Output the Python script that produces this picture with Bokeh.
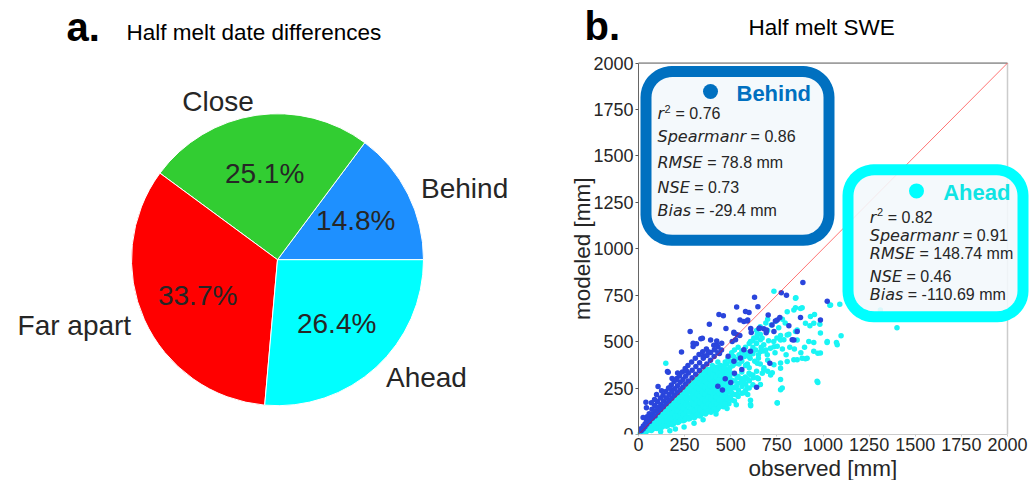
import numpy as np
from bokeh.plotting import figure
from bokeh.layouts import row
from bokeh.models import Range1d, FixedTicker, Title
from bokeh.core.properties import value
from bokeh.embed import file_html
from bokeh.resources import INLINE

# ---------------- data ----------------
pie_labels = ["Behind", "Close", "Far apart", "Ahead"]
pie_pct = [14.8, 25.1, 33.7, 26.4]
pie_colors = ["#1e90ff", "#32cd32", "#ff0000", "#00ffff"]

axis_ticks = [0, 250, 500, 750, 1000, 1250, 1500, 1750, 2000]
AXIS_MAX = 2000

stat_names = ["r", "Spearmanr", "RMSE", "NSE", "Bias"]
behind_stats = ["0.76", "0.86", "78.8 mm", "0.73", "-29.4 mm"]
ahead_stats = ["0.82", "0.91", "148.74 mm", "0.46", "-110.69 mm"]

# (observed, modeled) in mm
behind_pts = [
    (15, 20), (14, 31), (25, 30), (26, 46), (35, 42), (36, 58), (45, 55), (44, 76), (47, 95),
    (60, 70), (61, 91), (58, 112), (75, 88), (76, 110), (73, 136), (90, 100), (91, 128), (88, 156),
    (105, 118), (106, 146), (103, 176), (120, 135), (121, 161), (118, 196), (135, 150), (136, 181),
    (133, 211), (150, 165), (151, 196), (148, 231), (165, 180), (166, 216), (163, 251), (180, 195),
    (181, 231), (178, 266), (182, 301), (195, 212), (196, 246), (193, 286), (210, 225), (211, 263),
    (208, 301), (212, 331), (225, 240), (226, 281), (223, 316), (240, 255), (241, 296), (238, 336),
    (255, 272), (256, 313), (253, 356), (270, 288), (271, 331), (268, 371), (290, 305), (291, 346),
    (288, 391), (310, 325), (311, 366), (308, 411), (330, 345), (331, 386), (328, 431), (350, 365),
    (351, 411), (348, 446), (370, 380), (371, 426), (368, 461), (390, 400), (391, 441), (410, 420),
    (411, 456), (408, 481), (430, 440), (431, 471), (450, 455), (451, 491),
    (314, 488), (423, 483), (233, 444), (378, 445), (439, 436), (486, 421), (351, 421), (161, 335),
    (260, 342), (206, 296), (168, 251), (125, 235), (87, 189), (70, 171), (43, 144), (25, 91),
    (98, 216),
    (891, 818), (774, 763), (802, 750), (629, 739), (532, 686), (647, 688), (436, 646), (460, 639),
    (599, 657), (703, 643), (752, 616), (815, 586), (1023, 718), (986, 616), (384, 593), (474, 571),
    (550, 616), (590, 611), (280, 554), (346, 518), (391, 509), (424, 504), (518, 545), (608, 571),
    (653, 571), (692, 548), (734, 554), (860, 554), (842, 509), (712, 384), (640, 255), (157, 339),
    (106, 259), (40, 173), (580, 662), (766, 630), (742, 611), (724, 590), (878, 630), (592, 617),
    (571, 608), (657, 573), (679, 569), (694, 563), (611, 549), (517, 551), (535, 537), (549, 533),
    (526, 510), (508, 501), (833, 510), (607, 448), (571, 456), (553, 412), (517, 394), (296, 492),
    (296, 474), (338, 515), (470, 300), (520, 330), (455, 240), (500, 280), (560, 350), (430, 260),
]

ahead_pts = [
    (10, 4), (11, 9), (25, 10), (24, 20), (40, 13), (41, 30), (39, 38), (55, 24), (56, 40), (54, 52),
    (70, 22), (71, 44), (69, 64), (85, 36), (86, 58), (84, 78), (100, 32), (101, 56), (99, 80), (100, 95),
    (115, 46), (116, 70), (114, 94), (115, 110), (130, 42), (131, 68), (129, 94), (130, 120),
    (145, 56), (146, 82), (144, 108), (145, 134), (160, 50), (161, 78), (159, 106), (160, 134), (161, 152),
    (175, 64), (176, 94), (174, 124), (175, 154), (176, 168), (190, 58), (191, 90), (189, 122), (190, 154),
    (191, 182), (205, 74), (206, 106), (204, 138), (205, 170), (206, 196), (220, 68), (221, 102),
    (219, 136), (220, 170), (221, 204), (235, 86), (236, 120), (234, 154), (235, 188), (236, 220),
    (250, 78), (251, 114), (249, 150), (250, 186), (251, 222), (250, 240), (265, 96), (266, 132),
    (264, 168), (265, 204), (266, 240), (265, 256), (280, 88), (281, 124), (279, 160), (280, 196),
    (281, 232), (280, 266), (295, 106), (296, 142), (294, 178), (295, 214), (296, 250), (295, 282),
    (310, 98), (311, 134), (309, 170), (310, 206), (311, 242), (310, 278), (311, 296), (325, 116),
    (326, 152), (324, 188), (325, 224), (326, 260), (325, 296), (326, 312), (340, 108), (341, 144),
    (339, 180), (340, 216), (341, 252), (340, 288), (341, 322), (355, 126), (356, 162), (354, 198),
    (355, 234), (356, 270), (355, 306), (356, 338), (370, 118), (371, 154), (369, 190), (370, 226),
    (371, 262), (370, 298), (371, 334), (370, 352), (385, 136), (386, 172), (384, 208), (385, 244),
    (386, 280), (385, 316), (386, 350), (400, 128), (401, 164), (399, 200), (400, 236), (401, 272),
    (400, 308), (401, 344), (400, 372), (415, 146), (416, 182), (414, 218), (415, 254), (416, 290),
    (415, 326), (416, 362), (430, 138), (431, 174), (429, 210), (430, 246), (431, 282), (430, 318),
    (431, 354), (430, 390), (445, 156), (446, 192), (444, 228), (445, 264), (446, 300), (445, 336),
    (446, 372), (460, 150), (461, 186), (459, 222), (460, 258), (461, 294), (460, 330), (461, 366),
    (475, 170), (476, 206), (474, 242), (475, 278), (476, 314), (475, 350), (490, 165), (491, 200),
    (489, 236), (490, 272), (491, 308), (490, 344), (505, 186), (506, 222), (504, 258), (505, 294),
    (506, 330), (520, 180), (521, 216), (519, 252), (520, 288), (521, 324), (520, 380), (540, 205),
    (541, 240), (539, 276), (540, 312), (560, 222), (561, 258), (559, 296), (560, 336), (580, 236),
    (581, 272), (579, 310), (580, 372), (600, 250), (601, 290), (599, 330), (620, 268), (621, 305),
    (17, 12), (32, 16), (33, 26), (48, 20), (49, 34), (63, 28), (64, 50), (78, 30), (79, 48), (77, 62),
    (93, 34), (94, 52), (92, 70), (108, 40), (109, 62), (107, 84), (123, 38), (124, 64), (122, 88),
    (121, 104), (138, 50), (139, 76), (137, 100), (136, 118), (153, 44), (154, 72), (152, 98),
    (151, 124), (168, 58), (169, 86), (167, 116), (166, 140), (183, 52), (184, 84), (182, 114),
    (181, 146), (180, 164), (198, 70), (199, 100), (197, 132), (196, 162), (213, 64), (214, 96),
    (212, 128), (211, 160), (210, 190), (228, 80), (229, 114), (227, 148), (226, 180), (225, 200),
    (243, 74), (244, 108), (242, 142), (241, 176), (240, 212), (258, 88), (259, 124), (257, 160),
    (256, 196), (255, 228), (273, 84), (274, 120), (272, 156), (271, 192), (270, 230), (288, 98),
    (289, 134), (287, 170), (286, 206), (285, 244), (284, 270), (303, 90), (304, 126), (302, 162),
    (301, 198), (300, 234), (299, 262), (318, 108), (319, 144), (317, 180), (316, 216), (315, 252),
    (314, 284), (333, 100), (334, 136), (332, 172), (331, 208), (330, 244), (329, 280), (328, 306),
    (348, 118), (349, 154), (347, 190), (346, 226), (345, 262), (344, 298), (343, 326), (363, 110),
    (364, 146), (362, 182), (361, 218), (360, 254), (359, 290), (358, 326), (378, 128), (379, 164),
    (377, 200), (376, 236), (375, 272), (374, 308), (373, 340), (393, 120), (394, 156), (392, 192),
    (391, 228), (390, 264), (389, 300), (388, 336), (408, 138), (409, 174), (407, 210), (406, 246),
    (405, 282), (404, 318), (403, 354), (423, 130), (424, 166), (422, 202), (421, 238), (420, 274),
    (419, 310), (418, 346), (438, 148), (439, 184), (437, 220), (436, 256), (435, 292), (434, 328),
    (433, 364), (453, 172), (454, 210), (452, 246), (451, 282), (450, 318), (449, 354), (468, 165),
    (469, 200), (467, 236), (466, 272), (465, 308), (464, 344), (483, 190), (484, 228), (482, 264),
    (481, 300), (480, 336), (498, 200), (499, 240), (497, 280), (496, 320), (495, 360),
    (470, 390), (485, 410), (500, 395), (515, 420), (530, 405), (545, 430), (560, 395), (575, 420),
    (590, 440), (605, 410), (620, 435), (635, 455), (650, 430), (665, 470), (680, 450), (560, 450),
    (580, 470), (600, 490), (620, 505), (640, 520), (660, 540), (540, 470), (520, 455), (505, 440),
    (545, 380), (590, 380), (630, 395), (560, 300), (600, 360), (640, 340), (660, 380), (500, 230),
    (530, 260), (560, 280), (590, 300), (620, 320), (650, 300), (680, 360), (700, 340), (480, 380),
    (465, 360), (510, 370),
    (734, 771), (853, 736), (851, 682), (887, 682), (806, 661), (954, 646), (1037, 696), (1091, 702),
    (1311, 670), (929, 586), (983, 593), (851, 554), (806, 536), (770, 509), (734, 473), (860, 509),
    (950, 496), (1022, 496), (1073, 496), (1098, 532), (1401, 575), (972, 437), (914, 411), (887, 411),
    (860, 402), (806, 393), (972, 280), (752, 170), (608, 155), (770, 241), (671, 330), (716, 321),
    (644, 384), (572, 429), (662, 447), (698, 429), (734, 375), (770, 357), (148, 384),
    (851, 733), (842, 670), (878, 679), (932, 635), (950, 599), (905, 599), (860, 563), (1041, 697),
    (986, 546), (1023, 501), (1077, 483), (923, 501), (950, 448), (986, 439), (815, 540), (788, 510),
    (770, 533), (733, 501), (752, 475), (715, 465), (679, 483), (661, 510), (643, 537), (625, 519),
    (607, 501), (842, 403), (905, 408), (770, 385), (725, 332), (679, 349), (770, 296), (779, 251),
    (968, 287), (661, 269), (643, 305), (607, 323), (571, 287), (535, 305), (589, 251), (571, 225),
    (535, 216), (592, 216), (607, 184), (607, 162), (752, 171),
    (301, 60), (247, 40), (350, 80), (420, 110), (480, 140), (530, 160), (170, 20), (120, 15), (200, 30),
    (700, 620), (690, 600), (660, 580), (640, 560), (720, 590), (745, 610), (780, 620), (795, 600),
    (760, 575), (700, 560), (670, 520), (640, 490), (705, 505), (750, 520), (820, 470), (845, 460),
    (880, 440), (900, 470), (690, 455), (620, 470), (600, 420), (650, 410), (700, 400), (740, 440),
    (780, 460), (800, 430),
]

behind_obs, behind_mod = [list(v) for v in zip(*behind_pts)]
ahead_obs, ahead_mod = [list(v) for v in zip(*ahead_pts)]

# ---------------- styles ----------------
TXT = "#262626"
SANS = "Liberation Sans"
W_TOTAL, H = 1029, 480
FB = 43                      # bottom border shared by both panels

# ---------------- left: pie ----------------
W1 = 540
p1 = figure(width=W1, height=H, x_range=Range1d(0, W1), y_range=Range1d(FB, H),
            output_backend="svg", toolbar_location=None,
            min_border_left=0, min_border_right=0, min_border_top=0, min_border_bottom=FB,
            x_axis_location=None, y_axis_location=None, outline_line_color=None)
p1.grid.visible = False

def my(py):                  # pixel row -> left-panel data y
    return H - py

cx, cy, rad = 277, my(261), 146
frac = np.array(pie_pct) / np.sum(pie_pct)
ends = 2 * np.pi * np.cumsum(frac)
starts = ends - 2 * np.pi * frac
p1.wedge(x=cx, y=cy, radius=rad, start_angle=list(starts), end_angle=list(ends),
         fill_color=pie_colors, line_color="white", line_width=1)

mids = (starts + ends) / 2
lx = cx + 1.1 * rad * np.cos(mids)
ly = cy + 1.1 * rad * np.sin(mids)
for align, sel in (("left", np.cos(mids) > 0), ("right", np.cos(mids) <= 0)):
    idx = np.where(sel)[0]
    p1.text(x=list(lx[idx]), y=list(ly[idx]), text=[pie_labels[i] for i in idx],
            text_align=align, text_baseline="middle", text_font=value(SANS),
            text_font_size="28px", text_color=TXT)
pxs = cx + 0.6 * rad * np.cos(mids)
pys = cy + 0.6 * rad * np.sin(mids)
p1.text(x=list(pxs), y=list(pys), text=[f"{v:.1f}%" for v in pie_pct],
        text_align="center", text_baseline="middle", text_font=value(SANS),
        text_font_size="28px", text_color=TXT)

p1.text(x=[66], y=[my(27)], text=["a."], text_font=value(SANS), text_font_style="bold",
        text_font_size="40px", text_color="black", text_baseline="middle")
p1.text(x=[126], y=[my(32.5)], text=["Half melt date differences"], text_font=value(SANS),
        text_font_size="22.5px", text_color="black", text_baseline="middle")

# ---------------- right: scatter ----------------
W2 = W_TOTAL - W1
AX_L, AX_R, AX_T, AX_B = 638, 1007, 63, 437       # pixel box of 0..2000
SX = AXIS_MAX / (AX_R - AX_L)
SY = AXIS_MAX / (AX_B - AX_T)
X_START = (W1 - AX_L) * SX
X_END = (W_TOTAL - AX_L) * SX
Y_END = (AX_B - 0) * SY
p2 = figure(width=W2, height=H, x_range=Range1d(X_START, X_END), y_range=Range1d(0, Y_END),
            output_backend="svg", toolbar_location=None,
            min_border_left=0, min_border_right=0, min_border_top=0, min_border_bottom=FB,
            outline_line_color=None)
p2.grid.visible = False

def dx(px):
    return (px - AX_L) * SX

def dy(py):
    return (AX_B - py) * SY

for ax in (p2.xaxis[0], p2.yaxis[0]):
    ax.ticker = FixedTicker(ticks=axis_ticks)
    ax.bounds = (0, AXIS_MAX)
    ax.minor_tick_line_color = None
    ax.major_tick_in = 0
    ax.major_label_text_font = SANS
    ax.major_label_text_font_size = "18px"
    ax.major_label_text_color = TXT
p2.yaxis.fixed_location = 0
p2.xaxis.axis_line_color = "#cccccc"
p2.xaxis.major_tick_line_color = "#cccccc"
p2.xaxis.major_tick_out = 2
p2.xaxis.major_label_standoff = 1
p2.yaxis.axis_line_color = "#666666"
p2.yaxis.major_tick_line_color = "#555555"
p2.yaxis.major_tick_out = 3
p2.yaxis.major_label_standoff = 2

p2.add_layout(Title(text="observed [mm]", align="left", offset=748 - W1, standoff=0,
                    text_font=SANS, text_font_size="22.5px", text_font_style="normal",
                    text_color=TXT), "below")
p2.text(x=[dx(582)], y=[dy(250)], text=["modeled [mm]"], angle=np.pi / 2,
        text_align="center", text_baseline="middle", text_font=value(SANS),
        text_font_size="22.5px", text_color=TXT)

# spines
p2.line(x=[0, AXIS_MAX], y=[AXIS_MAX, AXIS_MAX], line_color="#555555", line_width=1)
p2.line(x=[AXIS_MAX, AXIS_MAX], y=[0, AXIS_MAX], line_color="#cccccc", line_width=1.5)

p2.scatter(ahead_obs, ahead_mod, size=5.5, fill_color="#19f5f5", line_color=None)
p2.scatter(behind_obs, behind_mod, size=5.5, fill_color="#2a45dc", line_color=None)
p2.line(x=[0, AXIS_MAX], y=[0, AXIS_MAX], line_color="red", line_alpha=0.55, line_width=1)

def rounded(x0, y0, x1, y1, r):
    t = np.linspace(0, np.pi / 2, 12)
    xs, ys = [], []
    for (ccx, ccy, a0) in ((x1 - r, y0 + r, -np.pi / 2), (x1 - r, y1 - r, 0.0),
                           (x0 + r, y1 - r, np.pi / 2), (x0 + r, y0 + r, np.pi)):
        xs += list(ccx + r * np.cos(a0 + t))
        ys += list(ccy + r * np.sin(a0 + t))
    return [dx(v) for v in xs], [dy(v) for v in ys]

DJ = {"S": .635, "p": .635, "e": .615, "a": .613, "r": .411, "m": .974, "n": .634,
      "R": .695, "M": .863, "E": .632, "N": .748, "B": .686, "i": .278, "s": .521}

def stat_box(x0, y0, x1, y1, color, head_color, head, dot_xy, head_x, head_mid,
             text_x, mids_, stats):
    bx, by = rounded(x0, y0, x1, y1, 26)
    p2.patch(bx, by, fill_color="#f3f8fc", fill_alpha=0.88, line_color=color,
             line_width=11, line_join="round")
    p2.scatter(x=[dx(dot_xy[0])], y=[dy(dot_xy[1])], size=15, fill_color=color, line_color=None)
    p2.text(x=[dx(head_x)], y=[dy(head_mid)], text=[head], text_font=value(SANS),
            text_font_style="bold", text_font_size="22px", text_color=head_color,
            text_baseline="middle")
    fs = 16
    for name, val, mid in zip(stat_names, stats, mids_):
        p2.text(x=[dx(text_x)], y=[dy(mid)], text=[name], text_font=value("DejaVu Sans"),
                text_font_style="italic", text_font_size=f"{fs}px", text_color=TXT,
                text_baseline="middle")
        xa = text_x + sum(DJ[c] for c in name) * fs
        if name == "r":
            p2.text(x=[dx(xa + 0.5)], y=[dy(mid - 5)], text=["2"], text_font=value(SANS),
                    text_font_size="11px", text_color=TXT, text_baseline="middle")
            xa += 7
        p2.text(x=[dx(xa + 0.278 * fs)], y=[dy(mid)], text=["= " + val], text_font=value(SANS),
                text_font_size=f"{fs}px", text_color=TXT, text_baseline="middle")

stat_box(645.5, 71.5, 828.5, 241.5, "#0070c0", "#0070c0", "Behind", (710, 91.7), 736, 94,
         657, [114, 136.7, 162.8, 188, 211.2], behind_stats)
stat_box(847.5, 170.5, 1022.5, 318.5, "#00ffff", "#10e4e4", "Ahead", (916, 191.7), 942.7, 193,
         869.3, [218.3, 236.7, 255.2, 277.8, 296.3], ahead_stats)

p2.text(x=[dx(748)], y=[dy(27)], text=["Half melt SWE"], text_font=value(SANS),
        text_font_size="22.5px", text_color="black", text_baseline="middle")
p2.text(x=[dx(584)], y=[dy(26)], text=["b."], text_font=value(SANS), text_font_style="bold",
        text_font_size="40px", text_color="black", text_baseline="middle")

layout = row(p1, p2)
open("out.html", "w").write(file_html(layout, INLINE))
